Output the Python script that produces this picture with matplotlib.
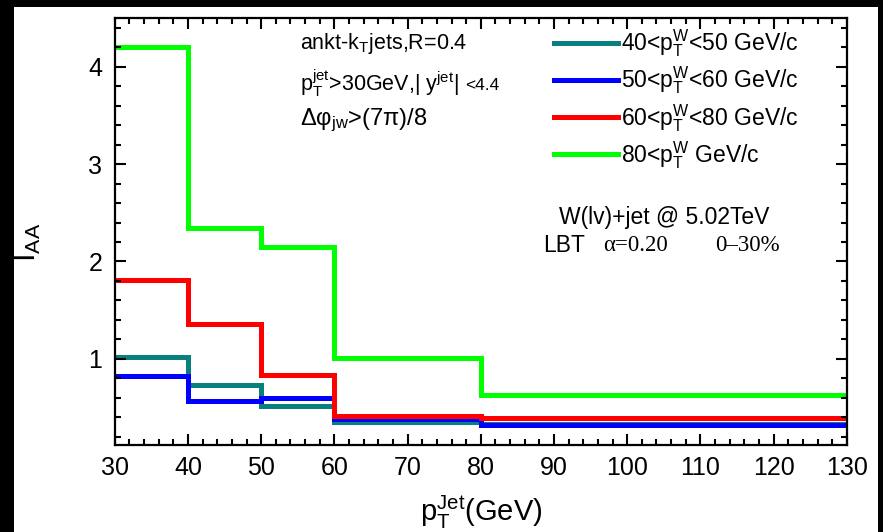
import matplotlib
matplotlib.use("Agg")
import matplotlib.pyplot as plt
from matplotlib.patches import Rectangle
from matplotlib.ticker import MultipleLocator
import numpy as np

plt.rcParams['font.family'] = ['Liberation Sans', 'DejaVu Sans']
plt.rcParams['mathtext.fontset'] = 'custom'
plt.rcParams['mathtext.rm'] = 'Liberation Sans'
plt.rcParams['mathtext.it'] = 'Liberation Sans:italic'
plt.rcParams['mathtext.sf'] = 'Liberation Sans'

# bin edges of the jet pT (GeV)
edges = [30, 40, 50, 60, 80, 130]

# I_AA per W pT bin
iaa_40_50 = [1.02, 0.73, 0.52, 0.35, 0.33]
iaa_50_60 = [0.82, 0.57, 0.60, 0.38, 0.32]
iaa_60_80 = [1.81, 1.36, 0.83, 0.41, 0.39]
iaa_80 = [4.20, 2.34, 2.15, 1.01, 0.63]

labels = [r'40<p$_\mathrm{T}^\mathrm{W}$<50 GeV/c',
          r'50<p$_\mathrm{T}^\mathrm{W}$<60 GeV/c',
          r'60<p$_\mathrm{T}^\mathrm{W}$<80 GeV/c',
          r'80<p$_\mathrm{T}^\mathrm{W}$ GeV/c']
colors = ['#0a7f7f', '#0000ff', '#ff0000', '#00ff00']

fig = plt.figure(figsize=(8.83, 5.32), dpi=100, facecolor='black')
fig.add_artist(Rectangle((14/883, 0), 864/883, 525/532, transform=fig.transFigure,
                         facecolor='white', edgecolor='none', zorder=0))
ax = fig.add_axes([0.130, 0.1635, 0.829, 0.8025])

series = [iaa_40_50, iaa_50_60, iaa_60_80, iaa_80]
for vals, c, lab in zip(series, colors, labels):
    ax.stairs(vals, edges, baseline=None, color=c, lw=3.6, label=lab)

ax.set_xlim(30, 130)
ax.set_ylim(0.115, 4.5)
ax.xaxis.set_major_locator(MultipleLocator(10))
ax.xaxis.set_minor_locator(MultipleLocator(2))
ax.yaxis.set_major_locator(MultipleLocator(1))
ax.yaxis.set_minor_locator(MultipleLocator(0.2))
ax.tick_params(which='both', direction='in', top=True, right=True, width=1.5)
ax.tick_params(which='major', length=8, labelsize=18)
ax.tick_params(axis='x', which='major', pad=8)
ax.tick_params(axis='y', which='major', pad=9)
ax.tick_params(which='minor', length=4.5)
for s in ax.spines.values():
    s.set_linewidth(1.6)

ax.set_xlabel(r'p$_\mathrm{T}^\mathrm{Jet}$(GeV)', fontsize=21, labelpad=10)
ax.set_ylabel(r'I$_\mathrm{AA}$', fontsize=22)
ax.yaxis.set_label_coords(-0.098, 0.475)

ax.text(0.253, 0.941, r'ankt-k$_\mathrm{T}$jets,R=0.4', transform=ax.transAxes,
        fontsize=15.5, va='center')
ax.text(0.253, 0.848, r'p$_\mathrm{T}^\mathrm{jet}$>30GeV,| y$^\mathrm{jet}$|',
        transform=ax.transAxes, fontsize=15.5, va='center')
ax.text(0.479, 0.843, '<4.4', transform=ax.transAxes, fontsize=12.5, va='center')
ax.text(0.253, 0.761, r'Δφ$_\mathrm{jw}$>(7π)/8', transform=ax.transAxes,
        fontsize=17, va='center')

ax.legend(loc='upper left', bbox_to_anchor=(0.581, 1.01), frameon=False, fontsize=16.5,
          handlelength=2.8, handletextpad=0.15, labelspacing=0.24, borderaxespad=0.2)

ax.text(0.751, 0.532, 'W(lv)+jet @ 5.02TeV', transform=ax.transAxes, fontsize=16.5,
        ha='center', va='center')
ax.text(0.585, 0.468, 'LBT', transform=ax.transAxes, fontsize=16.5, va='center')
ax.text(0.667, 0.468, 'α=0.20', transform=ax.transAxes, fontsize=16.5, va='center',
        family='Liberation Serif')
ax.text(0.820, 0.468, '0–30%', transform=ax.transAxes, fontsize=16.5, va='center',
        family='Liberation Serif')

fig.savefig('out.png', dpi=100, facecolor=fig.get_facecolor())
